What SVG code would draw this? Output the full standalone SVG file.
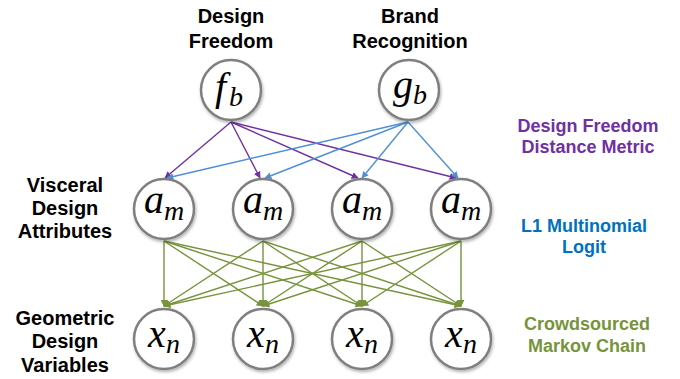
<svg xmlns="http://www.w3.org/2000/svg" width="680" height="379" viewBox="0 0 680 379">
<defs>
<marker id="ap" viewBox="0 0 10 10" refX="9" refY="5" markerWidth="7" markerHeight="7" orient="auto" markerUnits="userSpaceOnUse"><path d="M0,0 L10,5 L0,10 z" fill="#7030a0"/></marker>
<marker id="ab" viewBox="0 0 10 10" refX="9" refY="5" markerWidth="7" markerHeight="7" orient="auto" markerUnits="userSpaceOnUse"><path d="M0,0 L10,5 L0,10 z" fill="#4f8fd8"/></marker>
<marker id="ag" viewBox="0 0 10 10" refX="9" refY="5" markerWidth="7" markerHeight="7" orient="auto" markerUnits="userSpaceOnUse"><path d="M0,0 L10,5 L0,10 z" fill="#77933c"/></marker>
<filter id="sh" x="-30%" y="-30%" width="160%" height="160%"><feDropShadow dx="1" dy="2" stdDeviation="1.5" flood-color="#000" flood-opacity="0.3"/></filter>
</defs>
<style>
.lbl{font-family:"Liberation Sans",Arial,sans-serif;font-weight:bold;font-size:20px;text-anchor:middle;fill:#000}
.rl{font-family:"Liberation Sans",Arial,sans-serif;font-weight:bold;font-size:18px;text-anchor:middle}
.node circle{fill:#fff;stroke:#7f7f7f;stroke-width:2.5;filter:url(#sh)}
.m{font-family:"Liberation Serif","Times New Roman",serif;font-style:italic;fill:#000;text-anchor:middle;font-size:40px}
.m tspan{font-size:28px}
.p{stroke:#7030a0;stroke-width:1.4;fill:none;marker-end:url(#ap)}
.b{stroke:#4f8fd8;stroke-width:1.4;fill:none;marker-end:url(#ab)}
.g{stroke:#77933c;stroke-width:1.4;fill:none;marker-end:url(#ag)}
</style>
<rect width="680" height="379" fill="#fff"/>
<g id="labels">
<text class="lbl" x="231" y="23">Design</text>
<text class="lbl" x="231" y="48">Freedom</text>
<text class="lbl" x="410" y="23">Brand</text>
<text class="lbl" x="410" y="48">Recognition</text>
<text class="lbl" x="65" y="192">Visceral</text>
<text class="lbl" x="65" y="215">Design</text>
<text class="lbl" x="65" y="238">Attributes</text>
<text class="lbl" x="65" y="325">Geometric</text>
<text class="lbl" x="65" y="348">Design</text>
<text class="lbl" x="65" y="372">Variables</text>
<text class="rl" x="588" y="132" fill="#7030a0">Design Freedom</text>
<text class="rl" x="588" y="153" fill="#7030a0">Distance Metric</text>
<text class="rl" x="584" y="232" fill="#0070c0">L1 Multinomial</text>
<text class="rl" x="584" y="253" fill="#0070c0">Logit</text>
<text class="rl" x="587" y="330" fill="#77933c">Crowdsourced</text>
<text class="rl" x="587" y="352" fill="#77933c">Markov Chain</text>
</g>
<g id="connectors">
<line class="p" x1="231" y1="122" x2="165" y2="178"/>
<line class="p" x1="231" y1="122" x2="260" y2="178"/>
<line class="p" x1="231" y1="122" x2="358" y2="178"/>
<line class="p" x1="231" y1="122" x2="456" y2="178"/>
<line class="b" x1="408" y1="122" x2="167" y2="178"/>
<line class="b" x1="408" y1="122" x2="265" y2="178"/>
<line class="b" x1="408" y1="122" x2="362" y2="178"/>
<line class="b" x1="408" y1="122" x2="458" y2="178"/>
<line class="g" x1="164" y1="241" x2="164" y2="306"/>
<line class="g" x1="164" y1="241" x2="263" y2="306"/>
<line class="g" x1="164" y1="241" x2="362" y2="306"/>
<line class="g" x1="164" y1="241" x2="461" y2="306"/>
<line class="g" x1="263" y1="241" x2="164" y2="306"/>
<line class="g" x1="263" y1="241" x2="263" y2="306"/>
<line class="g" x1="263" y1="241" x2="362" y2="306"/>
<line class="g" x1="263" y1="241" x2="461" y2="306"/>
<line class="g" x1="362" y1="241" x2="164" y2="306"/>
<line class="g" x1="362" y1="241" x2="263" y2="306"/>
<line class="g" x1="362" y1="241" x2="362" y2="306"/>
<line class="g" x1="362" y1="241" x2="461" y2="306"/>
<line class="g" x1="461" y1="241" x2="164" y2="306"/>
<line class="g" x1="461" y1="241" x2="263" y2="306"/>
<line class="g" x1="461" y1="241" x2="362" y2="306"/>
<line class="g" x1="461" y1="241" x2="461" y2="306"/>
</g>
<g id="node-fb" class="node"><circle cx="231" cy="90" r="30"/><text class="m" x="229" y="100">f<tspan dx="3" dy="6">b</tspan></text></g>
<g id="node-gb" class="node"><circle cx="409" cy="90" r="30"/><text class="m" x="410" y="98">g<tspan dy="6">b</tspan></text></g>
<g id="node-a1" class="node"><circle cx="164" cy="209" r="30"/><text class="m" x="164" y="213">a<tspan dy="7">m</tspan></text></g>
<g id="node-a2" class="node"><circle cx="263" cy="209" r="30"/><text class="m" x="263" y="213">a<tspan dy="7">m</tspan></text></g>
<g id="node-a3" class="node"><circle cx="362" cy="209" r="30"/><text class="m" x="362" y="213">a<tspan dy="7">m</tspan></text></g>
<g id="node-a4" class="node"><circle cx="461" cy="209" r="30"/><text class="m" x="461" y="213">a<tspan dy="7">m</tspan></text></g>
<g id="node-x1" class="node"><circle cx="164" cy="339" r="30"/><text class="m" x="164" y="347">x<tspan dy="6">n</tspan></text></g>
<g id="node-x2" class="node"><circle cx="263" cy="339" r="30"/><text class="m" x="263" y="347">x<tspan dy="6">n</tspan></text></g>
<g id="node-x3" class="node"><circle cx="362" cy="339" r="30"/><text class="m" x="362" y="347">x<tspan dy="6">n</tspan></text></g>
<g id="node-x4" class="node"><circle cx="461" cy="339" r="30"/><text class="m" x="461" y="347">x<tspan dy="6">n</tspan></text></g>
</svg>
